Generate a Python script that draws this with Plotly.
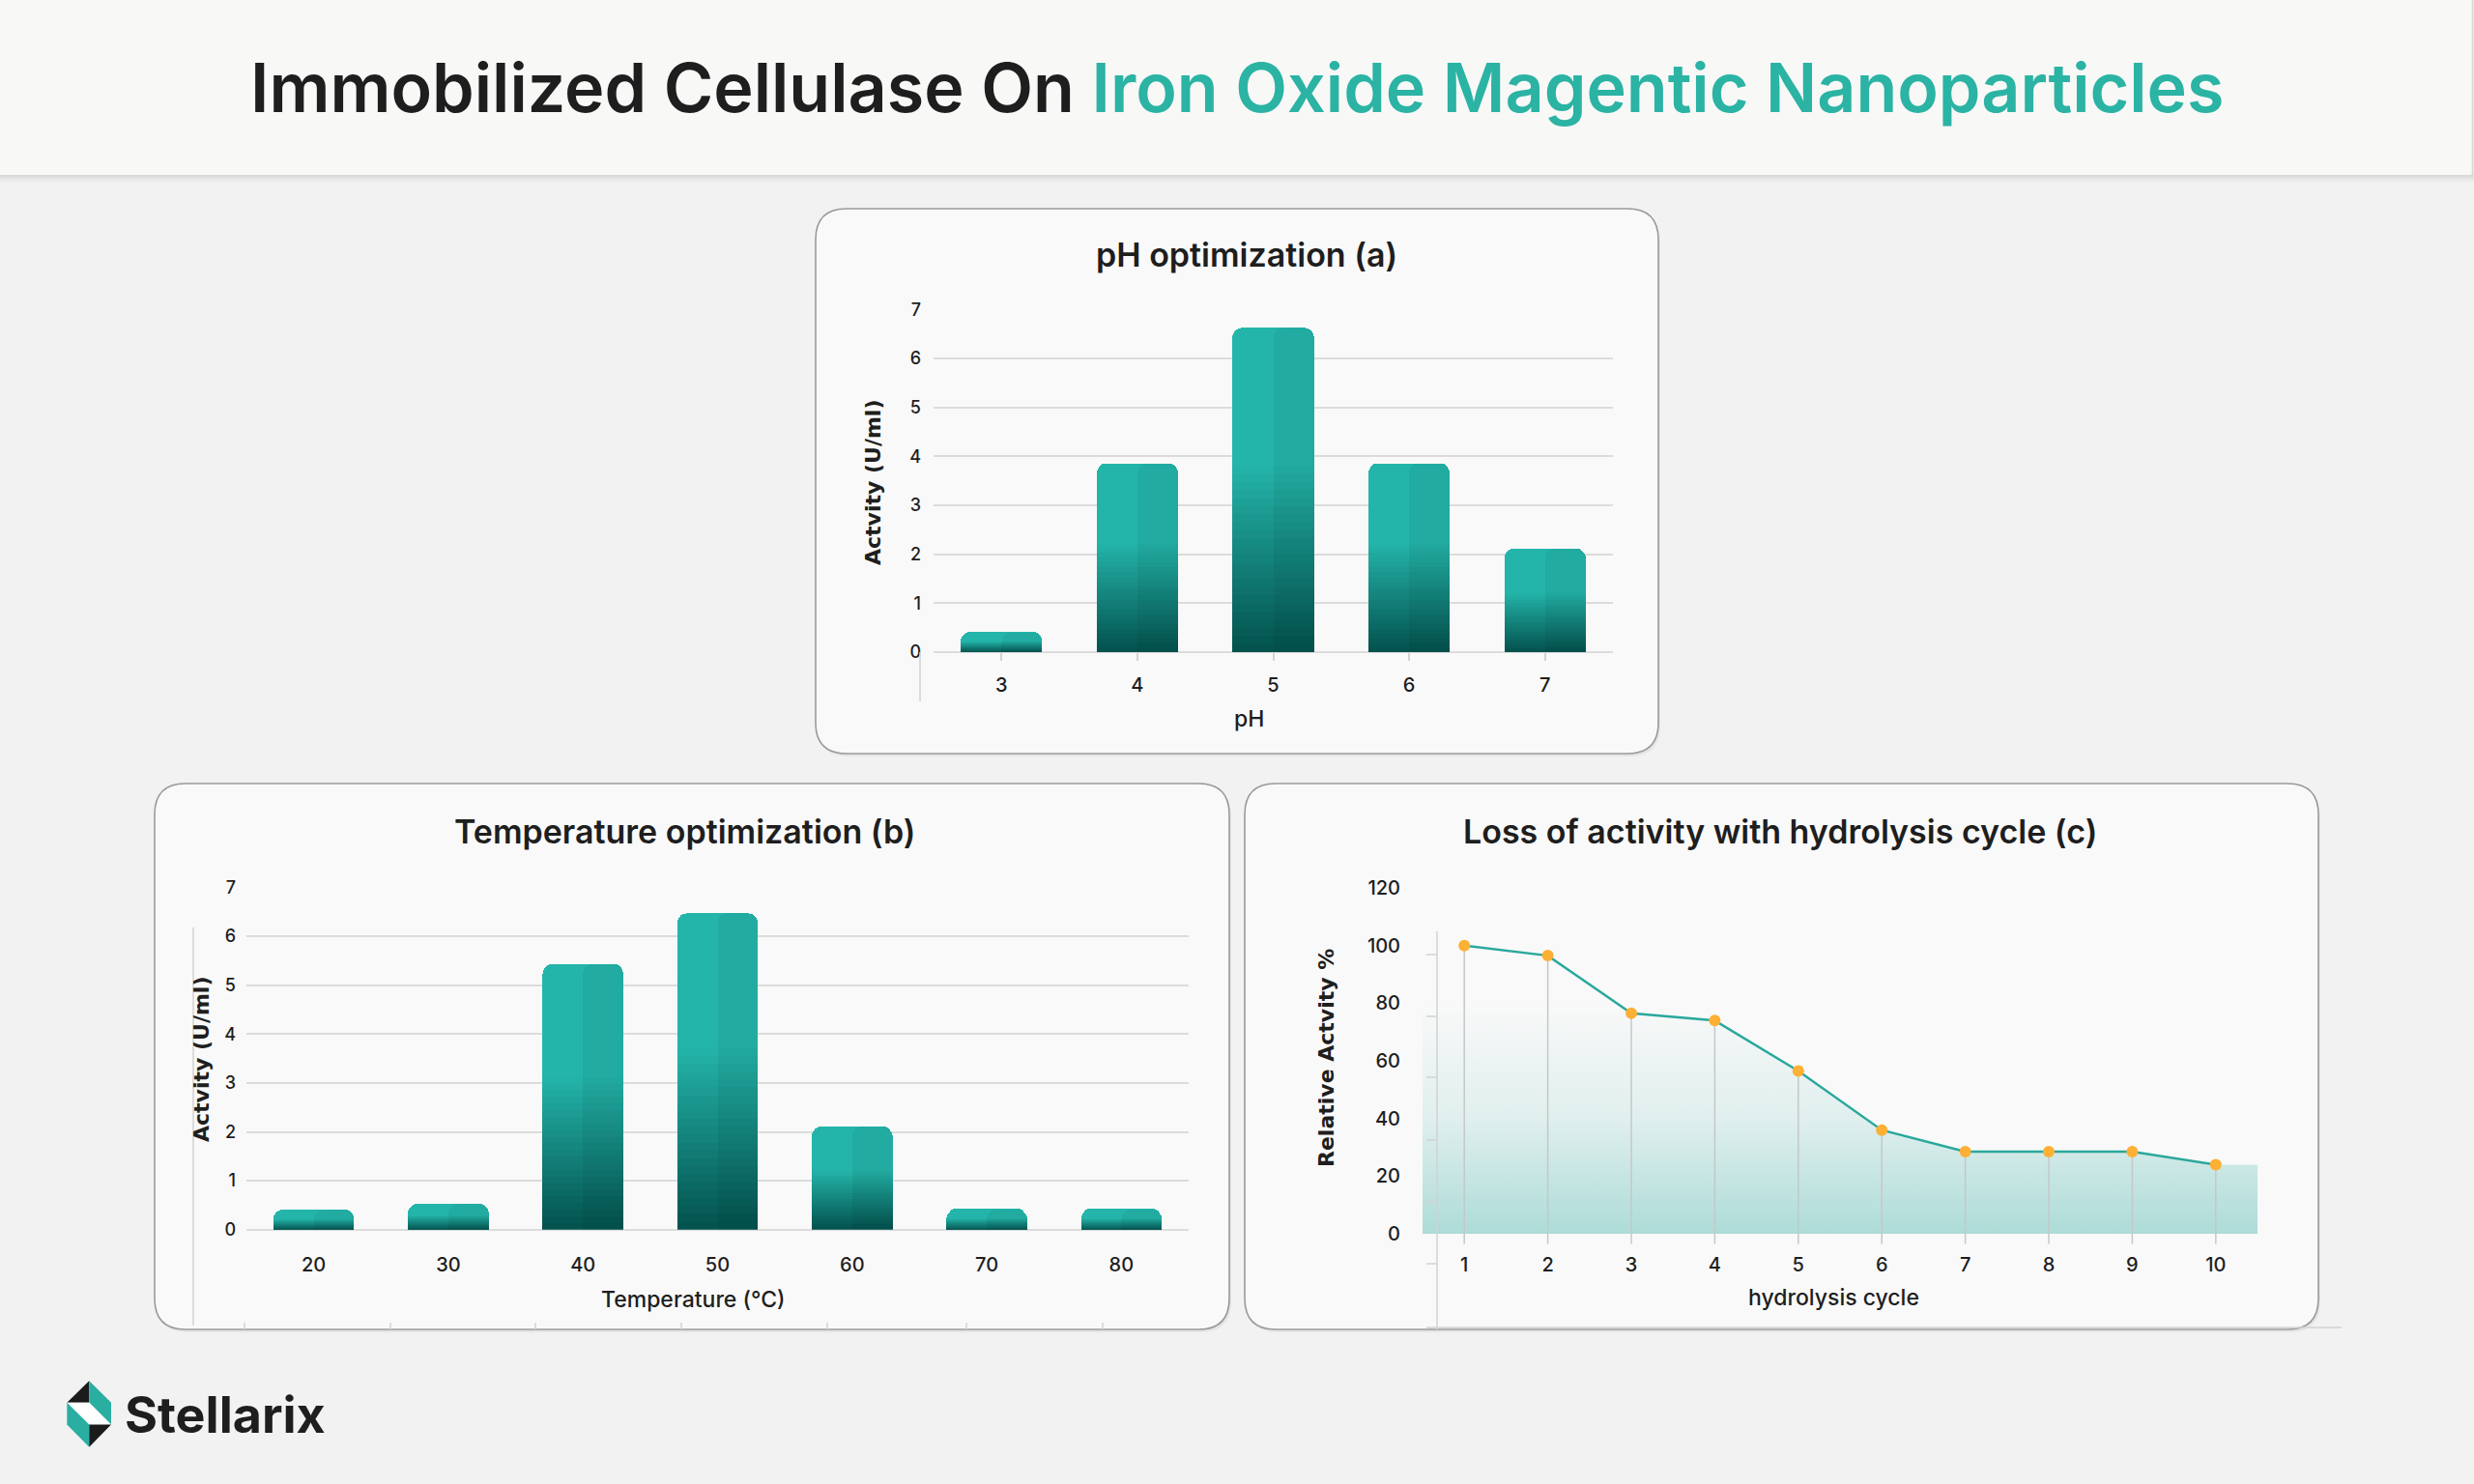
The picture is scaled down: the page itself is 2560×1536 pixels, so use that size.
import plotly.graph_objects as go

# ---- data ----
ph_levels = ["3", "4", "5", "6", "7"]
ph_activity = [0.40, 3.86, 6.63, 3.86, 2.12]

temp_levels = ["20", "30", "40", "50", "60", "70", "80"]
temp_activity = [0.40, 0.52, 5.43, 6.47, 2.11, 0.41, 0.41]

cycles = [1, 2, 3, 4, 5, 6, 7, 8, 9, 10]
relative_activity = [100, 96.5, 76.5, 74, 56.5, 36, 28.5, 28.5, 28.5, 24]

W, H = 2560, 1536
TXT = "#1e1e1e"
TEAL = "#2bb3a4"
GRID = "#dcdcdc"
FONT = "Inter"


def X(px):
    return px / W


def Y(py):
    return 1 - py / H


def mix(c1, c2, t):
    a = [int(c1[i:i + 2], 16) for i in (1, 3, 5)]
    b = [int(c2[i:i + 2], 16) for i in (1, 3, 5)]
    return "rgb(%d,%d,%d)" % tuple(round(a[k] + (b[k] - a[k]) * t) for k in range(3))


def rrect(x0, y0, x1, y1, r):
    return (f"M {X(x0 + r)} {Y(y0)} L {X(x1 - r)} {Y(y0)} Q {X(x1)} {Y(y0)} {X(x1)} {Y(y0 + r)} "
            f"L {X(x1)} {Y(y1 - r)} Q {X(x1)} {Y(y1)} {X(x1 - r)} {Y(y1)} "
            f"L {X(x0 + r)} {Y(y1)} Q {X(x0)} {Y(y1)} {X(x0)} {Y(y1 - r)} "
            f"L {X(x0)} {Y(y0 + r)} Q {X(x0)} {Y(y0)} {X(x0 + r)} {Y(y0)} Z")


fig = go.Figure()

# gradient bars: each bar split in stacked slices, dark at the bottom, teal on top
N = 40
DARK, LIGHT = "#03514d", "#24b5aa"


def add_gradient_bars(cats, vals, xa, ya, xa_half):
    for i in range(N):
        t = min(1.0, (i + 0.5) / N / 0.58)
        fig.add_trace(go.Bar(
            x=cats, y=[v / N for v in vals], xaxis=xa, yaxis=ya,
            marker=dict(color=mix(DARK, LIGHT, t), line=dict(width=0)),
            showlegend=False, hoverinfo="skip" if i < N - 1 else None,
            customdata=vals, hovertemplate="%{x}: %{customdata}<extra></extra>",
        ))
    # slightly darker right half of each bar
    fig.add_trace(go.Bar(
        x=cats, y=vals, xaxis=xa_half, yaxis=ya, width=0.3, offset=0,
        marker=dict(color="rgba(0,20,20,0.06)", line=dict(width=0), cornerradius=10),
        showlegend=False, hoverinfo="skip",
    ))


add_gradient_bars(ph_levels, ph_activity, "x", "y", "x4")
add_gradient_bars(temp_levels, temp_activity, "x2", "y2", "x5")

# panel c: gradient area, drop lines, line with markers
x_lo, x_hi = 0.5, 10.5
fig.add_trace(go.Scatter(
    x=[x_lo] + cycles + [x_hi],
    y=[relative_activity[0]] + relative_activity + [relative_activity[-1]],
    xaxis="x3", yaxis="y3", mode="none", fill="tozeroy",
    fillgradient=dict(type="vertical", start=0, stop=80,
                      colorscale=[[0, "rgba(38,168,156,0.36)"], [0.5, "rgba(38,168,156,0.12)"],
                                  [1, "rgba(38,168,156,0.0)"]]),
    showlegend=False, hoverinfo="skip",
))
drop_x, drop_y = [], []
for c, v in zip(cycles, relative_activity):
    drop_x += [c, c, None]
    drop_y += [v, -3.5, None]
fig.add_trace(go.Scatter(
    x=drop_x, y=drop_y, xaxis="x3", yaxis="y3", mode="lines",
    line=dict(color="#c4c8c8", width=1.5), showlegend=False, hoverinfo="skip",
))
fig.add_trace(go.Scatter(
    x=cycles, y=relative_activity, xaxis="x3", yaxis="y3", mode="lines+markers",
    line=dict(color="#2aa89c", width=2.5),
    marker=dict(color="#fdb035", size=12),
    showlegend=False,
))

tickfont = dict(family=FONT, size=20, color=TXT, weight=500)

fig.update_layout(
    width=W, height=H, margin=dict(l=0, r=0, t=0, b=0, pad=0, autoexpand=False),
    paper_bgcolor="#f2f2f2", plot_bgcolor="rgba(0,0,0,0)",
    barmode="stack", barcornerradius=10, bargap=0.4,
    font=dict(family=FONT, color=TXT),
    xaxis=dict(domain=[X(966), X(1669)], anchor="y", type="category",
               ticks="outside", ticklen=8, tickcolor="#d4d4d4", tickwidth=1.5,
               ticklabelstandoff=8, tickfont=tickfont, showgrid=False, showline=False),
    xaxis4=dict(domain=[X(966), X(1669)], anchor="y", overlaying="x", type="category",
                visible=False, categoryarray=ph_levels, categoryorder="array"),
    yaxis=dict(domain=[Y(675), Y(320)], anchor="x", range=[0, 7.01], dtick=1,
               gridcolor=GRID, gridwidth=1.5, zeroline=True, zerolinecolor=GRID, zerolinewidth=1.5,
               ticklabelstandoff=12, tickfont=dict(family=FONT, size=18, color=TXT, weight=500)),
    xaxis2=dict(domain=[X(255), X(1230)], anchor="y2", type="category",
                ticks="outside", ticklen=8, tickcolor="rgba(0,0,0,0)",
                ticklabelstandoff=10, tickfont=tickfont, showgrid=False, showline=False),
    xaxis5=dict(domain=[X(255), X(1230)], anchor="y2", overlaying="x2", type="category",
                visible=False, categoryarray=temp_levels, categoryorder="array"),
    yaxis2=dict(domain=[Y(1272.7), Y(918)], anchor="x2", range=[0, 7.01], dtick=1,
                gridcolor=GRID, gridwidth=1.5, zeroline=True, zerolinecolor=GRID, zerolinewidth=1.5,
                ticklabelstandoff=10, tickfont=dict(family=FONT, size=18, color=TXT, weight=500)),
    xaxis3=dict(domain=[X(1472), X(2336)], anchor="y3", range=[x_lo, x_hi], dtick=1,
                ticks="", ticklabelstandoff=0, tickfont=tickfont,
                showgrid=False, showline=False, zeroline=False),
    yaxis3=dict(domain=[Y(1295), Y(913)], anchor="x3", range=[-6, 122],
                tickvals=[0, 20, 40, 60, 80, 100, 120], showgrid=False, zeroline=False,
                ticklabelstandoff=22, tickfont=tickfont),
)
fig.update_xaxes(automargin=False)
fig.update_yaxes(automargin=False)

shapes = []
# header band with soft shadow
for k, a in enumerate([0.10, 0.06, 0.035, 0.02]):
    shapes.append(dict(type="rect", xref="paper", yref="paper", x0=0, x1=X(2560), y0=Y(181 + k * 2), y1=Y(181 + (k + 1) * 2),
                       line=dict(width=0), fillcolor=f"rgba(0,0,0,{a})", layer="below"))
shapes.append(dict(type="rect", xref="paper", yref="paper", x0=0, x1=X(2558), y0=Y(181), y1=1,
                   line=dict(width=0), fillcolor="#f8f8f7", layer="below"))
shapes.append(dict(type="line", xref="paper", yref="paper", x0=X(2558.5), x1=X(2558.5), y0=Y(181), y1=1,
                   line=dict(width=1.5, color="#d6d6d6"), layer="below"))

# panels
for (x0, y0, x1, y1) in [(844, 216, 1716, 780), (160, 811, 1272, 1376), (1288, 811, 2399, 1376)]:
    shapes.append(dict(type="path", xref="paper", yref="paper", path=rrect(x0 + 2, y0 + 3, x1 + 2, y1 + 3, 32),
                       line=dict(width=0), fillcolor="rgba(0,0,0,0.05)", layer="below"))
    shapes.append(dict(type="path", xref="paper", yref="paper", path=rrect(x0, y0, x1, y1, 32),
                       line=dict(width=1.6, color="#9a9a9a"), fillcolor="#f9f9f9", layer="below"))

faint = dict(width=1.5, color="#d2d2d2")
# stray axis lines
shapes.append(dict(type="line", xref="paper", yref="paper", x0=X(952), x1=X(952), y0=Y(675), y1=Y(726), line=faint))
shapes.append(dict(type="line", xref="paper", yref="paper", x0=X(200), x1=X(200), y0=Y(960), y1=Y(1372), line=faint))
for tx in [253, 404, 554, 705, 856, 1000, 1141]:
    shapes.append(dict(type="line", xref="paper", yref="paper", x0=X(tx), x1=X(tx), y0=Y(1369), y1=Y(1376), line=faint))
shapes.append(dict(type="line", xref="paper", yref="paper", x0=X(1487), x1=X(1487), y0=Y(964), y1=Y(1376), line=faint))
for ty in [988, 1052, 1115, 1180, 1244, 1308]:
    shapes.append(dict(type="line", xref="paper", yref="paper", x0=X(1476), x1=X(1487), y0=Y(ty), y1=Y(ty), line=faint))
shapes.append(dict(type="line", xref="paper", yref="paper", x0=X(1476), x1=X(2423), y0=Y(1374), y1=Y(1374), line=faint))

# logo mark
def poly(pts, color):
    d = "M " + " L ".join(f"{X(px)} {Y(py)}" for px, py in pts) + " Z"
    return dict(type="path", xref="paper", yref="paper", path=d, line=dict(width=0), fillcolor=color)


top, ul, m1, ur = (92.3, 1429.3), (69.3, 1451.7), (92.3, 1451.7), (115, 1451.7)
lr, m2, ll, bot = (115, 1474.5), (92.3, 1474.5), (69.3, 1474.5), (92.3, 1497.7)
shapes += [
    poly([top, ul, m1], "#1b1b1b"),
    poly([top, ur, lr, m1], "#2aaea2"),
    poly([ul, m1, lr, m2], "#ffffff"),
    poly([ul, m2, bot, ll], "#2aaea2"),
    poly([m2, lr, bot], "#1b1b1b"),
]
fig.update_layout(shapes=shapes)

ann = []


def text(x, y, s, size, weight=500, family=FONT, angle=0, xanchor="center"):
    ann.append(dict(x=X(x), y=Y(y), xref="paper", yref="paper", text=s, showarrow=False,
                    xanchor=xanchor, yanchor="middle", textangle=angle,
                    font=dict(family=family, size=size, color=TXT, weight=weight)))


text(1280, 90, f"Immobilized Cellulase On <span style='color:{TEAL}'>Iron Oxide Magentic Nanoparticles</span>", 70, 600)
text(1290, 263, "pH optimization (a)", 34, 600)
text(708, 860, "Temperature optimization (b)", 34, 600)
text(1842, 860, "Loss of activity with hydrolysis cycle (c)", 34, 600)
text(1292, 744, "pH", 23, 500)
text(717, 1345, "Temperature (°C)", 23, 500)
text(1897, 1343, "hydrolysis cycle", 23, 500)
text(904, 500, "Actvity (U/ml)", 22, 700, "DejaVu Sans", -90)
text(208, 1097, "Actvity (U/ml)", 22, 700, "DejaVu Sans", -90)
text(1372, 1095, "Relative Actvity %", 22, 700, "DejaVu Sans", -90)
text(127, 1464, "Stellarix", 52, 700, xanchor="left")
fig.update_layout(annotations=ann)

# pin the figure to the top-left corner of the page (no body margin)
pin = ("document.documentElement.style.margin='0';document.body.style.margin='0';"
       "document.body.style.overflow='hidden';"
       "var d=document.getElementById('{plot_id}');d.style.position='fixed';d.style.left='0';d.style.top='0';")
fig.write_html("out.html", post_script=pin, config={"displayModeBar": False})
